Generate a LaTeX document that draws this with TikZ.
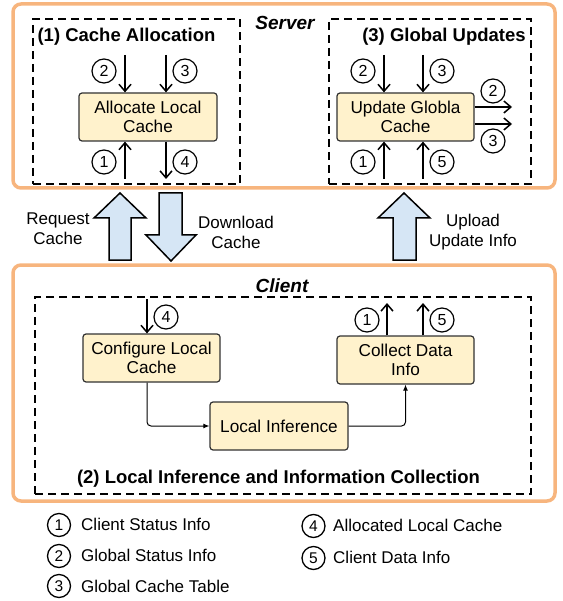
\documentclass[tikz,border=0pt]{standalone}
\usepackage{fontspec}
\setmainfont{Liberation Sans}
\usetikzlibrary{arrows.meta}
\definecolor{orangec}{RGB}{247,181,126}
\definecolor{boxf}{RGB}{255,242,204}
\definecolor{boxd}{RGB}{50,50,50}
\definecolor{bluef}{RGB}{214,230,245}
\tikzset{
 obox/.style={draw=orangec, line width=3.5pt, rounded corners=8pt, inner sep=0pt},
 dbox/.style={draw=black, line width=1.8pt, dash pattern=on 8pt off 5pt, inner sep=0pt},
 pbox/.style={draw=boxd, fill=boxf, line width=1.2pt, rounded corners=3pt, align=center,
   inner sep=0pt, font=\fontsize{17.2}{19.5}\selectfont},
 num/.style={circle, draw, line width=1.2pt, minimum size=24pt, inner sep=0pt, font=\fontsize{16}{16}\selectfont},
 lnum/.style={circle, draw, line width=1.3pt, minimum size=23pt, inner sep=0pt, font=\fontsize{15.5}{15.5}\selectfont},
 arr/.style={-{Straight Barb[length=7pt,width=12pt]}, line width=1.5pt},
 conn/.style={-{Latex[length=6pt,width=5pt]}, line width=1pt, rounded corners=4pt},
 barrow/.style={draw, fill=bluef, line width=1.5pt, line join=miter},
 title/.style={font=\fontsize{18.5}{21}\selectfont\bfseries, anchor=base, inner sep=0pt},
 ititle/.style={font=\fontsize{19}{21}\selectfont\bfseries\itshape, anchor=base, inner sep=0pt},
 lbl/.style={font=\fontsize{17}{20}\selectfont, align=center, inner sep=0pt},
 ltxt/.style={font=\fontsize{17}{19}\selectfont, anchor=base west, inner sep=0pt},
}
\begin{document}
\begin{tikzpicture}[x=1pt,y=-1pt]
\useasboundingbox (0,0) rectangle (562,601);
% containers
\node[obox, minimum width=542pt, minimum height=184pt] (server) at (284,96) {};
\node[obox, minimum width=542pt, minimum height=236pt] (client) at (284,383) {};
\node[dbox, minimum width=207pt, minimum height=165pt] (d1) at (136.5,101.5) {};
\node[dbox, minimum width=202pt, minimum height=165pt] (d3) at (430,101.5) {};
\node[dbox, minimum width=496pt, minimum height=197pt] (d2) at (283,395.5) {};
% titles
\node[ititle] (tserver) at (285,29.5) {Server};
\node[title] (t1) at (126.5,42) {(1) Cache Allocation};
\node[title] (t3) at (444,42) {(3) Global Updates};
\node[ititle] (tclient) at (282,292) {Client};
\node[title] (t2) at (278.5,483) {(2) Local Inference and Information Collection};
% process boxes
\node[pbox, minimum width=138pt, minimum height=48pt] (alloc) at (148,117) {Allocate Local\\Cache};
\node[pbox, minimum width=137pt, minimum height=48pt] (upd) at (405.5,117) {Update Globla\\Cache};
\node[pbox, minimum width=137pt, minimum height=48pt] (conf) at (151.5,358) {Configure Local\\Cache};
\node[pbox, minimum width=138pt, minimum height=48pt] (inf) at (279,426) {Local Inference};
\node[pbox, minimum width=137pt, minimum height=48pt] (coll) at (405.5,360) {Collect Data\\Info};
% free ends
\coordinate (a2s) at (125,55); \coordinate (a3s) at (166,55);
\coordinate (a1s) at (125,179); \coordinate (a4e) at (166,179);
\coordinate (u2s) at (384,55); \coordinate (u3s) at (423,55);
\coordinate (u1s) at (384,179); \coordinate (u5s) at (423,179);
\coordinate (o2e) at (512,107); \coordinate (o3e) at (512,124);
\coordinate (c4s) at (147,299);
\coordinate (c1e) at (387,303); \coordinate (c5e) at (423,303);
% allocate arrows
\draw[arr] (a2s) -- (a2s |- alloc.north);
\draw[arr] (a3s) -- (a3s |- alloc.north);
\draw[arr] (a1s) -- (a1s |- alloc.south);
\draw[arr] (a4e |- alloc.south) -- (a4e);
\node[num] (n2a) at (104,71) {2};
\node[num] (n3a) at (185,71) {3};
\node[num] (n1a) at (104,162) {1};
\node[num] (n4a) at (185,162) {4};
% update arrows
\draw[arr] (u2s) -- (u2s |- upd.north);
\draw[arr] (u3s) -- (u3s |- upd.north);
\draw[arr] (u1s) -- (u1s |- upd.south);
\draw[arr] (u5s) -- (u5s |- upd.south);
\draw[arr] (upd.east |- o2e) -- (o2e);
\draw[arr] (upd.east |- o3e) -- (o3e);
\node[num] (n2u) at (363,71) {2};
\node[num] (n3u) at (442,71) {3};
\node[num] (n1u) at (363,162) {1};
\node[num] (n5u) at (442,162) {5};
\node[num] (n2o) at (493,91) {2};
\node[num] (n3o) at (493,141) {3};
% client arrows
\draw[arr] (c4s) -- (c4s |- conf.north);
\node[num] (n4c) at (166,317) {4};
\draw[arr] (c1e |- coll.north) -- (c1e);
\draw[arr] (c5e |- coll.north) -- (c5e);
\node[num] (n1c) at (367,320) {1};
\node[num] (n5c) at (442,320) {5};
\draw[conn] (conf.south -| 147,0) |- (inf.west);
\draw[conn] (inf.east) -| (coll.south);
% block arrows
\draw[barrow] (109,260) -- (109,218) -- (94,218) -- (120,193) -- (146,218) -- (131,218) -- (131,260) -- cycle;
\draw[barrow] (159,193) -- (159,235) -- (146,235) -- (171,261) -- (196,235) -- (182,235) -- (182,193) -- cycle;
\draw[barrow] (393,260) -- (393,218) -- (378,218) -- (404,193) -- (430,218) -- (416,218) -- (416,260) -- cycle;
\node[lbl] (lreq) at (58,229) {Request\\Cache};
\node[lbl] (ldown) at (236,232) {Download\\Cache};
\node[lbl] (lup) at (473,232) {Upload\\Update Info};
% legend
\node[lnum] (l1) at (59,525) {1};
\node[lnum] (l2) at (59,556) {2};
\node[lnum] (l3) at (59,586) {3};
\node[lnum] (l4) at (313.5,526) {4};
\node[lnum] (l5) at (313.5,558) {5};
\node[ltxt] (lt1) at (81,530) {Client Status Info};
\node[ltxt] (lt2) at (81,561) {Global Status Info};
\node[ltxt] (lt3) at (81,592) {Global Cache Table};
\node[ltxt] (lt4) at (333,531) {Allocated Local Cache};
\node[ltxt] (lt5) at (333,563) {Client Data Info};
\end{tikzpicture}
\end{document}
